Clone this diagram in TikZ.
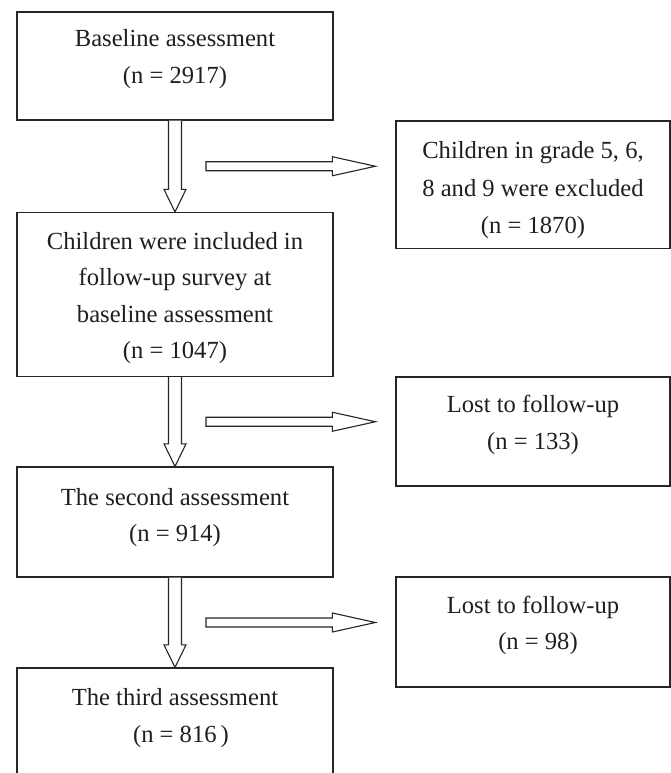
\documentclass[tikz,border=0pt]{standalone}
\usepackage{fontspec}
\setmainfont{Liberation Serif}
\usetikzlibrary{calc}
\newcommand{\blkdown}[2]{%
  \draw[blk] let \p1=(#1.south), \p2=(#2.north) in
    (\x1-6.5pt,\y1) -- (\x1-6.5pt,\y2+22.5pt) -- (\x1-11pt,\y2+22.5pt) --
    (\x1,\y2) -- (\x1+11pt,\y2+22.5pt) -- (\x1+6.5pt,\y2+22.5pt) --
    (\x1+6.5pt,\y1);}
\newcommand{\blkright}[3]{%
  \coordinate (#3) at ($(#1.south)!0.5!(#2.north)$);}
\newcommand{\blkrightdraw}[2]{%
  \draw[blk] let \p1=(#1), \p2=(#2.west) in
    (\x1+31pt,\y1+4.5pt) -- (\x2-63pt,\y1+4.5pt) -- (\x2-63pt,\y1+9.5pt) --
    (\x2-20pt,\y1) -- (\x2-63pt,\y1-9.5pt) -- (\x2-63pt,\y1-4.5pt) --
    (\x1+31pt,\y1-4.5pt) -- cycle;}
\begin{document}
\begin{tikzpicture}[x=1pt,y=-1pt,
  box/.style={draw=black!85,line width=1.2pt,inner sep=0pt,minimum width=316pt},
  rbox/.style={draw=black!85,line width=1.2pt,inner sep=0pt,minimum width=274pt},
  txt/.style={anchor=base,inner sep=0pt,font=\fontsize{24.6}{30}\selectfont,text=black!88},
  blk/.style={draw=black!85,line width=1.1pt,fill=white,line join=miter}]
\useasboundingbox (0,0) rectangle (671,773);
\clip (0,0) rectangle (671,773);
\fill[white] (0,0) rectangle (671,773);

% left boxes
\node[box,minimum height=108pt] (b1) at (175,66) {};
\node[box,minimum height=164pt] (b2) at (175,294.5) {};
\node[box,minimum height=110pt] (b3) at (175,522) {};
\node[box,minimum height=160pt] (b4) at (175,748) {};

% right boxes
\node[rbox,minimum height=127.5pt] (r1) at (533,184.75) {};
\node[rbox,minimum height=109pt] (r2) at (533,431.5) {};
\node[rbox,minimum height=110pt] (r3) at (533,632) {};

% texts
\node[txt] (b1a) at (175,47) {Baseline assessment};
\node[txt] (b1b) at (175,84) {(n = 2917)};
\node[txt] (b2a) at (175,249) {Children were included in};
\node[txt] (b2b) at (175,285.5) {follow-up survey at};
\node[txt] (b2c) at (175,322) {baseline assessment};
\node[txt] (b2d) at (175,358.5) {(n = 1047)};
\node[txt] (b3a) at (175,505) {The second assessment};
\node[txt] (b3b) at (175,541) {(n = 914)};
\node[txt] (b4a) at (175,705) {The third assessment};
\node[txt] (b4b) at (181,742) {(n = 816\,)};
\node[txt] (r1a) at (533,158) {Children in grade 5, 6,};
\node[txt] (r1b) at (533,196) {8 and 9 were excluded};
\node[txt] (r1c) at (533,233) {(n = 1870)};
\node[txt] (r2a) at (533,412) {Lost to follow-up};
\node[txt] (r2b) at (533,449) {(n = 133)};
\node[txt] (r3a) at (533,613) {Lost to follow-up};
\node[txt] (r3b) at (538,649) {(n = 98)};

% block arrows
\blkdown{b1}{b2}
\blkdown{b2}{b3}
\blkdown{b3}{b4}
\blkright{b1}{b2}{m1}
\blkright{b2}{b3}{m2}
\blkright{b3}{b4}{m3}
\blkrightdraw{m1}{r1}
\blkrightdraw{m2}{r2}
\blkrightdraw{m3}{r3}
\end{tikzpicture}
\end{document}
